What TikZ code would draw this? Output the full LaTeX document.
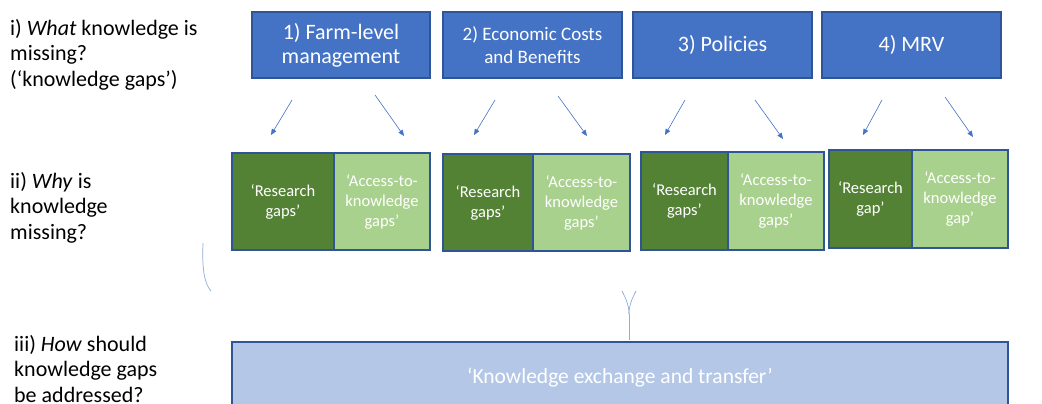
\documentclass[tikz,border=0pt]{standalone}
\usepackage{fontspec}
\setmainfont{Carlito}
\usetikzlibrary{arrows.meta}
\definecolor{topblue}{HTML}{4472C4}
\definecolor{edgeblue}{HTML}{2F5597}
\definecolor{darkgreen}{HTML}{548235}
\definecolor{lightgreen}{HTML}{A9D18E}
\definecolor{paleblue}{HTML}{B4C7E7}
\definecolor{faint}{HTML}{8FAADC}
\tikzset{
  topbox/.style={draw=edgeblue, line width=1.2pt, fill=topblue, text=white, align=center, inner sep=0pt, minimum height=66pt, font=\fontsize{22}{24}\selectfont},
  resbox/.style={draw=edgeblue, line width=1.2pt, fill=darkgreen, text=white, align=center, inner sep=0pt, font=\fontsize{16.5}{20}\selectfont},
  accbox/.style={draw=edgeblue, line width=1.2pt, fill=lightgreen, text=white, align=center, inner sep=0pt, font=\fontsize{16.5}{20}\selectfont},
  kebox/.style={draw=edgeblue, line width=1.2pt, fill=paleblue, text=white, inner sep=0pt, font=\fontsize{21.5}{24}\selectfont},
  lefttext/.style={anchor=north west, align=left, inner sep=0pt, font=\fontsize{22}{25.5}\selectfont},
  thinarrow/.style={draw=topblue, line width=0.6pt, -{Triangle[length=6pt,width=5pt]}},
  artifact/.style={draw=faint, line width=0.7pt}
}
\begin{document}
\begin{tikzpicture}[x=1pt,y=-1pt]
\clip (0,0) rectangle (1042,404);
\fill[white] (0,0) rectangle (1042,404);

% left questions
\node[lefttext] (q1) at (10,19) {i) \textit{What} knowledge is\\missing?\\(‘knowledge gaps’)};
\node[lefttext] (q2) at (10,172) {ii) \textit{Why} is\\knowledge\\missing?};
\node[lefttext] (q3) at (14,335) {iii) \textit{How} should\\knowledge gaps\\be addressed?};

% top boxes
\node[topbox, minimum width=178pt] (b1) at (341,45) {1) Farm-level\\management};
\node[topbox, minimum width=179pt, font=\fontsize{19}{23}\selectfont] (b2) at (532.5,45) {2) Economic Costs\\and Benefits};
\node[topbox, minimum width=179pt] (b3) at (722.5,45) {3) Policies};
\node[topbox, minimum width=179pt] (b4) at (911.5,45) {4) MRV};

% green boxes
\node[resbox, minimum width=102pt, minimum height=97pt] (r1) at (283,201.5) {‘Research\\gaps’};
\node[accbox, minimum width=96pt, minimum height=97pt] (a1) at (382,201.5) {‘Access-to-\\knowledge\\gaps’};
\node[resbox, minimum width=90pt, minimum height=97pt] (r2) at (488,202.5) {‘Research\\gaps’};
\node[accbox, minimum width=97pt, minimum height=97pt] (a2) at (581.5,202.5) {‘Access-to-\\knowledge\\gaps’};
\node[resbox, minimum width=87pt, minimum height=98pt] (r3) at (684.5,201) {‘Research\\gaps’};
\node[accbox, minimum width=96pt, minimum height=98pt] (a3) at (776,201) {‘Access-to-\\knowledge\\gaps’};
\node[resbox, minimum width=83pt, minimum height=98pt] (r4) at (870.5,199) {‘Research\\gap’};
\node[accbox, minimum width=96pt, minimum height=98pt] (a4) at (960,199) {‘Access-to-\\knowledge\\gap’};

% bottom box
\node[kebox, minimum width=776pt, minimum height=72pt] (ke) at (620,378) {‘Knowledge exchange and transfer’};

% arrow end points
\coordinate (s1l) at (292,100); \coordinate (e1l) at (271,135);
\coordinate (s1r) at (375,95);  \coordinate (e1r) at (404,136);
\coordinate (s2l) at (495,100); \coordinate (e2l) at (474,135);
\coordinate (s2r) at (558,96);  \coordinate (e2r) at (587,136);
\coordinate (s3l) at (685,100); \coordinate (e3l) at (665,135);
\coordinate (s3r) at (755,100); \coordinate (e3r) at (783,139);
\coordinate (s4l) at (882,100); \coordinate (e4l) at (863,135);
\coordinate (s4r) at (945,97);  \coordinate (e4r) at (973,137);
\foreach \g in {1,2,3,4}{
  \draw[thinarrow] (s\g l) -- (e\g l);
  \draw[thinarrow] (s\g r) -- (e\g r);
}

% faint leftover strokes
\coordinate (c1) at (203,243); \coordinate (c2) at (211,291);
\draw[artifact] (c1) .. controls (202,268) and (204,283) .. (c2);
\coordinate (y1) at (622,291); \coordinate (y2) at (636,291);
\coordinate (ym) at (629,314); \coordinate (yb) at (629,340);
\draw[artifact] (y1) .. controls (626,299) and (629,305) .. (ym);
\draw[artifact] (y2) .. controls (632,299) and (629,305) .. (ym);
\draw[artifact] (ym) -- (yb);
\end{tikzpicture}
\end{document}
